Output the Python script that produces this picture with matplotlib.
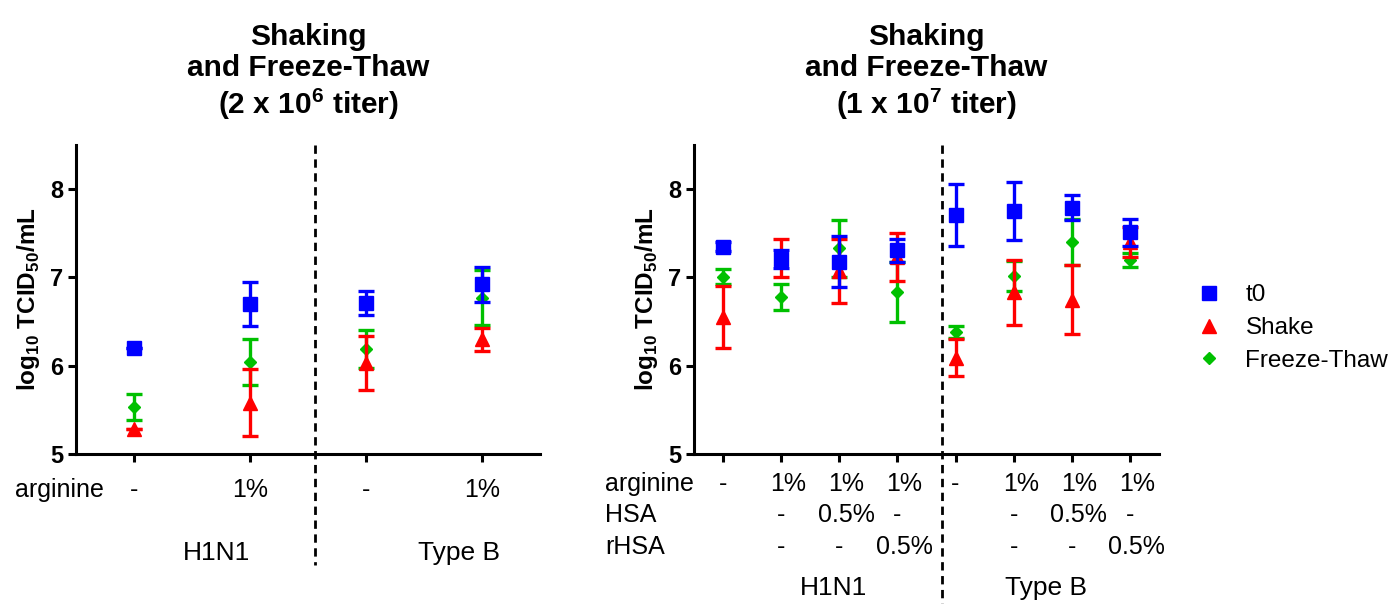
import matplotlib
matplotlib.use("Agg")
import matplotlib.pyplot as plt
import numpy as np

plt.rcParams['font.family'] = ['Liberation Sans', 'DejaVu Sans']
plt.rcParams['mathtext.fontset'] = 'custom'
plt.rcParams['mathtext.rm'] = 'Liberation Sans'
plt.rcParams['mathtext.bf'] = 'Liberation Sans:bold'

# left panel (2 x 10^6 titer)
left_arginine = ['-', '1%', '-', '1%']
left_t0 = [6.20, 6.70, 6.71, 6.92]
left_t0_err = [0.0, 0.25, 0.14, 0.20]
left_shake = [5.28, 5.58, 6.03, 6.30]
left_shake_err = [0.0, 0.38, 0.31, 0.13]
left_ft = [5.53, 6.04, 6.19, 6.77]
left_ft_err = [0.15, 0.26, 0.22, 0.31]

# right panel (1 x 10^7 titer)
right_arginine = ['-', '1%', '1%', '1%', '-', '1%', '1%', '1%']
right_hsa = ['', '-', '0.5%', '-', '', '-', '0.5%', '-']
right_rhsa = ['', '-', '-', '0.5%', '', '-', '-', '0.5%']
right_t0 = [7.35, 7.21, 7.18, 7.31, 7.71, 7.75, 7.79, 7.51]
right_t0_err = [0.05, 0.10, 0.29, 0.13, 0.35, 0.33, 0.14, 0.15]
right_shake = [6.55, 7.22, 7.07, 7.23, 6.09, 6.83, 6.75, 7.40]
right_shake_err = [0.35, 0.21, 0.36, 0.27, 0.21, 0.37, 0.39, 0.17]
right_ft = [7.01, 6.78, 7.33, 6.84, 6.38, 7.02, 7.40, 7.20]
right_ft_err = [0.08, 0.15, 0.32, 0.34, 0.07, 0.17, 0.26, 0.08]

BLUE, RED, GREEN = '#0000FF', '#FF0000', '#00C000'
ROWFS, GROUPFS = 18, 19

fig = plt.figure(figsize=(13.93, 6.04), dpi=100)
ax1 = fig.add_axes([76/1393, 150/604, 464/1393, 309/604])
ax2 = fig.add_axes([694/1393, 150/604, 465/1393, 309/604])


def draw_series(ax, t0, t0e, sh, she, ft, fte):
    x = np.arange(len(t0))
    eb = dict(ls='none', elinewidth=2.4, capsize=5.5, capthick=2.4)
    ax.errorbar(x, ft, yerr=fte, color=GREEN, marker='D', ms=6.5, zorder=3, **eb)
    ax.errorbar(x, sh, yerr=she, color=RED, marker='^', ms=9.5, zorder=4, **eb)
    ax.errorbar(x, t0, yerr=t0e, color=BLUE, marker='s', ms=9.5, zorder=5, **eb)


def style(ax, n, title):
    ax.set_xlim(-0.5, n - 0.5)
    ax.set_ylim(5, 8.5)
    ax.set_yticks([5, 6, 7, 8])
    ax.set_xticks(np.arange(n))
    ax.set_xticklabels([])
    for s in ['top', 'right']:
        ax.spines[s].set_visible(False)
    for s in ['left', 'bottom']:
        ax.spines[s].set_linewidth(2.2)
    ax.tick_params(width=2.2, length=6, pad=3)
    for lab in ax.get_yticklabels():
        lab.set_fontsize(17)
        lab.set_fontweight('bold')
    ax.set_ylabel(r'log$_{\mathbf{10}}$ TCID$_{\mathbf{50}}$/mL', fontsize=17.5,
                  fontweight='bold', labelpad=6)
    ax.set_title(title, fontsize=21.5, fontweight='bold', pad=22, linespacing=1.15)


draw_series(ax1, left_t0, left_t0_err, left_shake, left_shake_err, left_ft, left_ft_err)
draw_series(ax2, right_t0, right_t0_err, right_shake, right_shake_err, right_ft, right_ft_err)

style(ax1, 4, 'Shaking\nand Freeze-Thaw\n' + r'(2 x 10$^{\mathbf{6}}$ titer)')
style(ax2, 8, 'Shaking\nand Freeze-Thaw\n' + r'(1 x 10$^{\mathbf{7}}$ titer)')

# dashed separators
ax1.plot([1.56, 1.56], [8.5, 3.74], ls=(0, (3, 2)), color='black', lw=2, clip_on=False)
ax2.plot([3.77, 3.77], [8.5, 3.3], ls=(0, (3, 2)), color='black', lw=2, clip_on=False)

# row labels below axes
tr1 = ax1.get_xaxis_transform()
ax1.text(-0.131, -0.117, 'arginine', transform=ax1.transAxes, fontsize=ROWFS, va='center', ha='left')
for i, s in enumerate(left_arginine):
    ax1.text(i, -0.117, s, transform=tr1, fontsize=ROWFS, va='center', ha='center')
ax1.text(0.71, -0.320, 'H1N1', transform=tr1, fontsize=GROUPFS, va='center', ha='center')
ax1.text(2.8, -0.320, 'Type B', transform=tr1, fontsize=GROUPFS, va='center', ha='center')

tr2 = ax2.get_xaxis_transform()
rows = [('arginine', right_arginine, -0.097), ('HSA', right_hsa, -0.197),
        ('rHSA', right_rhsa, -0.301)]
for name, vals, yy in rows:
    ax2.text(-0.191, yy, name, transform=ax2.transAxes, fontsize=ROWFS, va='center', ha='left')
    for i, s in enumerate(vals):
        dx = 0.0 if s == '-' else 0.12
        ax2.text(i + dx, yy, s, transform=tr2, fontsize=ROWFS, va='center', ha='center')
ax2.text(1.9, -0.434, 'H1N1', transform=tr2, fontsize=GROUPFS, va='center', ha='center')
ax2.text(5.56, -0.434, 'Type B', transform=tr2, fontsize=GROUPFS, va='center', ha='center')

# legend
handles = [plt.Line2D([], [], ls='none', marker=m, color=c, ms=s)
           for m, c, s in [('s', BLUE, 9.5), ('^', RED, 9.5), ('D', GREEN, 6.5)]]
fig.legend(handles, ['t0', 'Shake', 'Freeze-Thaw'], loc='center left',
           bbox_to_anchor=(1175/1393, 1 - 328/604), frameon=False, fontsize=17.5,
           labelspacing=0.45, handlelength=1.0, handletextpad=1.0)

fig.savefig('out.png', dpi=100)
